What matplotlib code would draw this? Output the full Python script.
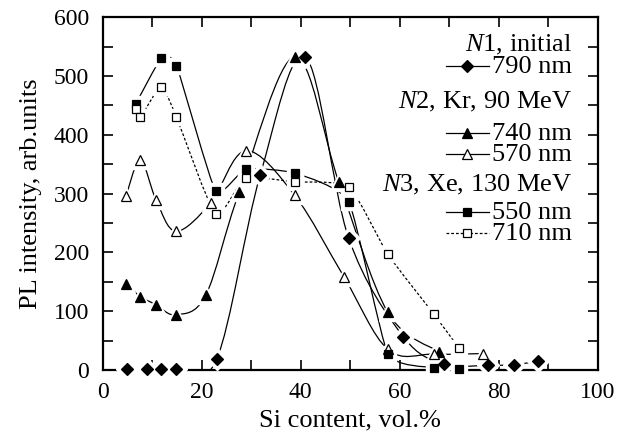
import matplotlib
matplotlib.use("Agg")
import matplotlib.pyplot as plt
from matplotlib.path import Path
from matplotlib.patches import PathPatch
from matplotlib.lines import Line2D
import numpy as np

plt.rcParams['font.family'] = ['Liberation Serif', 'DejaVu Serif']
plt.rcParams['mathtext.fontset'] = 'custom'
plt.rcParams['mathtext.rm'] = 'Liberation Serif'
plt.rcParams['mathtext.it'] = 'Liberation Serif:italic'

# --- data ---
x790 = [4.9, 8.9, 11.8, 14.9, 23.0, 31.8, 40.9, 49.7, 60.7, 69.0, 77.9, 83.1, 88.0]
y790 = [1, 2, 1, 2, 18, 331, 533, 224, 57, 10, 8, 9, 15]

x740 = [4.7, 7.6, 10.8, 14.8, 20.8, 27.6, 38.8, 47.7, 57.6, 67.9]
y740 = [147, 125, 111, 94, 127, 303, 533, 320, 98, 31]

x570 = [4.7, 7.6, 10.8, 14.8, 21.8, 28.9, 38.8, 48.7, 57.6, 66.9, 76.8]
y570 = [296, 357, 289, 236, 284, 373, 297, 159, 35, 27, 28]

x550 = [6.7, 11.8, 14.9, 22.8, 28.9, 38.8, 49.7, 57.6, 66.9, 71.9]
y550 = [453, 530, 518, 305, 342, 335, 286, 28, 4, 1]

x710 = [6.7, 7.6, 11.8, 14.9, 22.8, 28.9, 38.8, 49.7, 57.6, 66.9, 71.9]
y710 = [444, 430, 482, 430, 266, 326, 320, 311, 197, 95, 38]

labels = ['790 nm', '740 nm', '570 nm', '550 nm', '710 nm']

fig = plt.figure(figsize=(6.21, 4.37), dpi=100)
ax = fig.add_axes([0.1654, 0.1533, 0.7971, 0.8071])


def smooth_path(xs, ys, t=1.0):
    P = np.column_stack([xs, ys]).astype(float)
    ext = np.vstack([P[0], P, P[-1]])
    verts = [tuple(P[0])]
    codes = [Path.MOVETO]
    for i in range(1, len(ext) - 2):
        p0, p1, p2, p3 = ext[i - 1], ext[i], ext[i + 1], ext[i + 2]
        c1 = p1 + t * (p2 - p0) / 6.0
        c2 = p2 - t * (p3 - p1) / 6.0
        verts += [tuple(c1), tuple(c2), tuple(p2)]
        codes += [Path.CURVE4] * 3
    return Path(verts, codes)


# (x, y, marker, face, linestyle, markersize, tension)
series = [
    (x790, y790, 'D', 'k', '-', 6.0, 1.0),
    (x740, y740, '^', 'k', '-', 7.5, 1.0),
    (x570, y570, '^', 'w', '-', 7.5, 1.0),
    (x550, y550, 's', 'k', '-', 6.3, 0.5),
    (x710, y710, 's', 'w', (0, (2.2, 1.6)), 6.3, 0.6),
]

for xs, ys, m, fc, ls, ms, t in series:
    patch = PathPatch(smooth_path(xs, ys, t), facecolor='none', edgecolor='k',
                      lw=0.9, linestyle=ls, zorder=2)
    ax.add_patch(patch)

for xs, ys, m, fc, ls, ms, t in series:
    ax.plot(xs, ys, linestyle='none', marker=m, ms=ms + 5, mfc='w', mec='w',
            zorder=3, clip_on=False)
for xs, ys, m, fc, ls, ms, t in series:
    ax.plot(xs, ys, linestyle='none', marker=m, ms=ms, mfc=fc, mec='k',
            mew=0.9, zorder=4, clip_on=False)

ax.set_xlim(0, 100)
ax.set_ylim(0, 600)
ax.set_xticks([0, 20, 40, 60, 80, 100])
ax.set_xticks(np.arange(0, 101, 10), minor=True)
ax.set_yticks([0, 100, 200, 300, 400, 500, 600])
ax.set_yticks(np.arange(0, 601, 50), minor=True)
ax.tick_params(which='both', direction='in', top=True, right=True,
               labelsize=17, width=1.2, length=7)
ax.tick_params(axis='x', which='both', pad=8.5)
ax.tick_params(axis='y', which='both', pad=10)
for s in ax.spines.values():
    s.set_linewidth(1.6)
ax.set_xlabel('Si content, vol.%', fontsize=19, labelpad=5)
ax.set_ylabel('PL intensity, arb.units', fontsize=19, labelpad=8)

# --- custom legend ---
def px2ax(px, py):
    x0, y0, w, h = 102.7, 17.3, 495.0, 352.7
    return (px - x0) / w, 1 - (py - y0) / h

fs = 19
tx = 572
heads = [(r'$\mathit{N}$1, initial', 45), (r'$\mathit{N}$2, Kr, 90 MeV', 102),
         (r'$\mathit{N}$3, Xe, 130 MeV', 185)]
for t, py in heads:
    ax.text(*px2ax(tx, py), t, transform=ax.transAxes, ha='right',
            va='center', fontsize=fs)

entries = [(0, 67), (1, 134), (2, 155), (3, 213), (4, 234)]
for idx, py in entries:
    xs, ys, m, fc, ls, ms, t = series[idx]
    ax.text(*px2ax(tx, py), labels[idx], transform=ax.transAxes, ha='right',
            va='center', fontsize=fs)
    a0 = px2ax(446, py - 1)
    a1 = px2ax(489, py - 1)
    ax.add_line(Line2D([a0[0], a1[0]], [a0[1], a1[1]], transform=ax.transAxes,
                       color='k', lw=0.9, linestyle=ls))
    am = px2ax(467, py - 1)
    ax.add_line(Line2D([am[0]], [am[1]], transform=ax.transAxes, marker=m,
                       ms=ms, mfc=fc, mec='k', mew=0.9, linestyle='none'))

fig.savefig('out.png', dpi=100)
